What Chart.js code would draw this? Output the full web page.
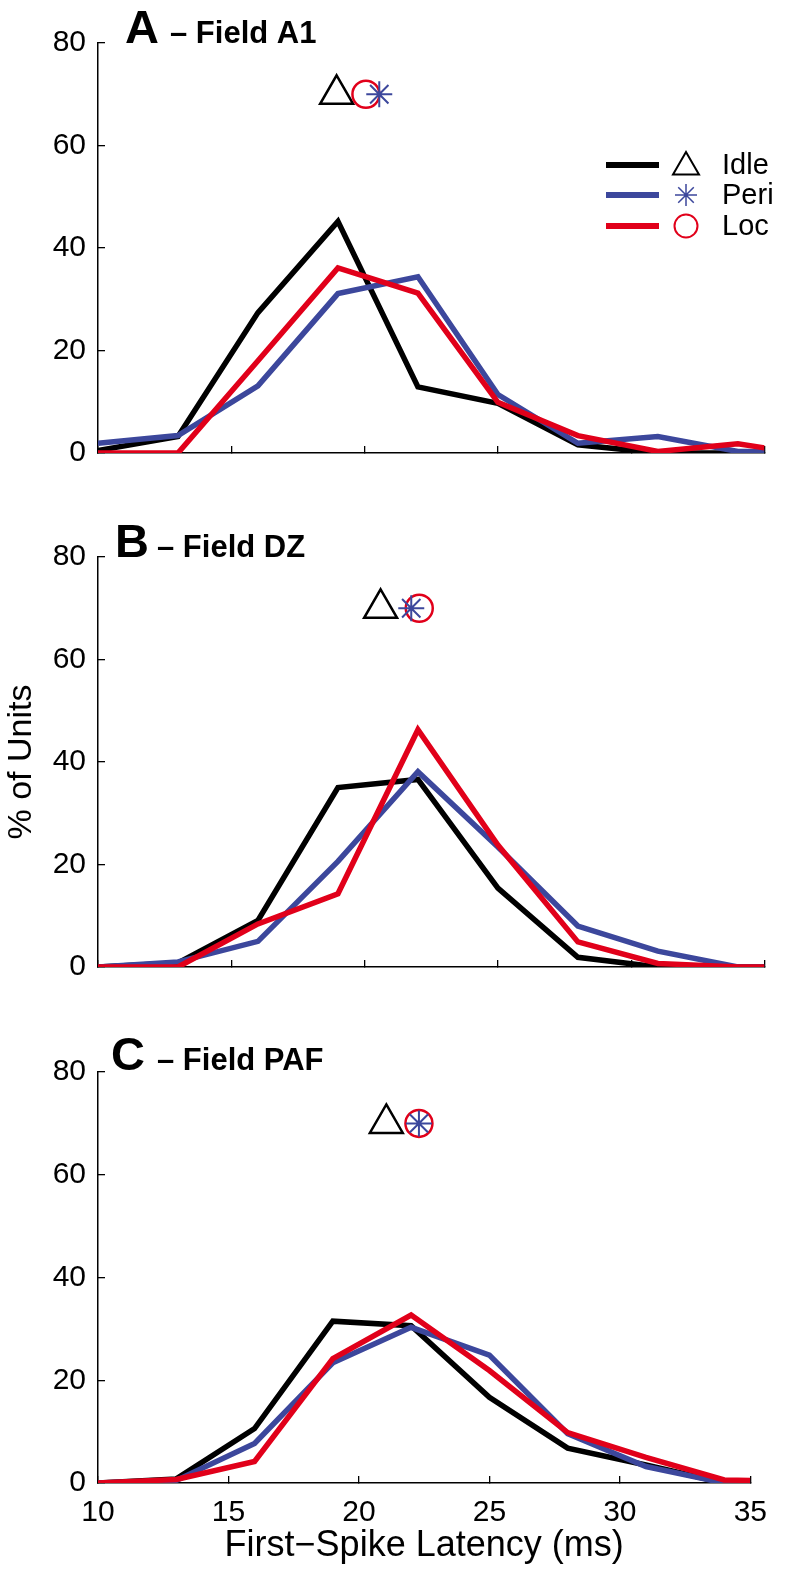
<!DOCTYPE html>
<html>
<head>
<meta charset="UTF-8">
<title>First-Spike Latency</title>
<script src="https://cdn.jsdelivr.net/npm/chart.js"></script>
<style>
  body { margin: 0; background: #fff; }
  #wrap { position: relative; width: 786px; height: 1571px; overflow: hidden; }
  #wrap canvas { position: absolute; left: 0; }
</style>
</head>
<body>
<div id="wrap">
  <canvas id="chartA" width="786" height="500" style="top:0px"></canvas>
  <canvas id="chartB" width="786" height="515" style="top:500px"></canvas>
  <canvas id="chartC" width="786" height="556" style="top:1015px"></canvas>
</div>
<script>
// latency bins (ms)
const latency = [10, 13, 16, 19, 22, 25, 28, 31, 34, 35];

// % of units, field A1
const idleA = [0.5, 3.2, 27.4, 45.2, 12.9, 9.7, 1.6, 0, 0, 0];
const periA = [1.9, 3.4, 13.1, 31.1, 34.4, 11.4, 1.9, 3.2, 0.3, 0.3];
const locA  = [0, 0, 18, 36.1, 31.2, 9.9, 3.4, 0.3, 1.8, 1.0];

// field DZ
const idleB = [0, 0.8, 9.1, 35, 36.6, 15.4, 1.9, 0, 0, 0];
const periB = [0, 1.0, 5.0, 20.6, 38.1, 23.4, 8.0, 3.1, 0, 0];
const locB  = [0, 0, 8.4, 14.3, 46.3, 23.8, 4.9, 0.7, 0, 0];

// field PAF
const idleC = [0, 0.8, 10.6, 31.5, 30.6, 16.7, 6.8, 3.5, 0, 0];
const periC = [0, 0.5, 7.7, 23.4, 30.3, 24.9, 9.6, 3.2, 0, 0];
const locC  = [0, 0.7, 4.2, 24.2, 32.7, 21.9, 9.8, 5.0, 0.6, 0.5];

// mean latencies (A, B, C) shown as markers
const idleMean = [18.95, 20.6, 21.05];
const periMean = [20.55, 21.75, 22.3];
const locMean  = [20.05, 22.05, 22.3];
const meanLevel = 70;

const xTicks = [10, 15, 20, 25, 30, 35];
const yTicks = [0, 20, 40, 60, 80];
const groups = ['Idle', 'Peri', 'Loc'];

const FONT = "'Liberation Sans', Arial, Helvetica, sans-serif";
const BLACK = '#000000', BLUE = '#3c479c', RED = '#e1001a';
const colors = [BLACK, BLUE, RED];
const markerStyles = [
  { pointStyle: 'triangle', radius: 19, borderWidth: 2.5 },
  { pointStyle: 'star', radius: 13, borderWidth: 2 },
  { pointStyle: 'circle', radius: 13.5, borderWidth: 2.5 }
];

function pts(ys) {
  return latency.map((x, i) => ({ x: x, y: ys[i] }));
}

function lineSet(label, ys, color, order) {
  return {
    label: label, data: pts(ys), borderColor: color, borderWidth: 5.5,
    pointRadius: 0, tension: 0, order: order, borderJoinStyle: 'miter'
  };
}

function markerSet(k, x, order) {
  const m = markerStyles[k];
  return {
    label: groups[k] + ' mean', data: [{ x: x, y: meanLevel }], showLine: false,
    pointStyle: m.pointStyle, pointRadius: m.radius, pointBorderWidth: m.borderWidth,
    pointBorderColor: colors[k], pointBackgroundColor: 'rgba(0,0,0,0)',
    pointHoverRadius: m.radius, order: order
  };
}

// panel letter + field name
const panelTitle = {
  id: 'panelTitle',
  afterDraw(chart, args, opts) {
    const ctx = chart.ctx;
    ctx.save();
    ctx.fillStyle = '#000';
    ctx.textBaseline = 'alphabetic';
    ctx.textAlign = 'left';
    ctx.font = 'bold 47px ' + FONT;
    ctx.fillText(opts.letter, opts.lx, opts.y);
    ctx.font = 'bold 31px ' + FONT;
    ctx.fillText(opts.rest, opts.rx, opts.y);
    ctx.restore();
  }
};

// line + marker + name legend in panel A
const lineMarkerLegend = {
  id: 'lineMarkerLegend',
  afterDraw(chart, args, opts) {
    if (!opts.show) return;
    const ctx = chart.ctx;
    const rows = [165, 195, 226];
    const sizes = [15, 11, 11.5];
    ctx.save();
    groups.forEach((g, k) => {
      const y = rows[k];
      ctx.strokeStyle = colors[k];
      ctx.lineWidth = 6;
      ctx.beginPath();
      ctx.moveTo(606, y);
      ctx.lineTo(659, y);
      ctx.stroke();
      ctx.lineWidth = k === 1 ? 1.5 : 2;
      ctx.fillStyle = 'rgba(0,0,0,0)';
      Chart.helpers.drawPoint(ctx, {
        pointStyle: markerStyles[k].pointStyle, radius: sizes[k],
        rotation: 0, borderWidth: ctx.lineWidth
      }, 686, k === 0 ? y + 2 : y);
      ctx.fillStyle = '#000';
      ctx.font = '29px ' + FONT;
      ctx.textBaseline = 'middle';
      ctx.textAlign = 'left';
      ctx.fillText(g, 722, y + 1);
    });
    ctx.restore();
  }
};

function scales(o) {
  const tickFont = { family: FONT, size: 30 };
  return {
    x: {
      type: 'linear', min: 10, max: 35,
      afterBuildTicks: s => { s.ticks = xTicks.map(v => ({ value: v })); },
      ticks: { display: o.xLabels, padding: 19, color: '#000', font: tickFont, maxRotation: 0 },
      grid: { drawOnChartArea: false, tickLength: -7, color: '#000', lineWidth: 1.3 },
      border: { color: '#000', width: 1.5 },
      title: {
        display: o.xLabels, text: 'First\u2212Spike Latency (ms)', color: '#000',
        font: { family: FONT, size: 36 }, padding: { top: 0, bottom: 3 }
      },
      afterFit: s => { s.height = o.xHeight; }
    },
    y: {
      type: 'linear', min: 0, max: 80,
      afterBuildTicks: s => { s.ticks = yTicks.map(v => ({ value: v })); },
      ticks: { padding: 19, color: '#000', font: tickFont },
      grid: { drawOnChartArea: false, tickLength: -7, color: '#000', lineWidth: 1.3 },
      border: { color: '#000', width: 1.5 },
      title: {
        display: o.yTitle, text: '% of Units', color: '#000',
        font: { family: FONT, size: 34 }, padding: { top: 1, bottom: 0 }
      },
      afterFit: s => { s.width = 98; }
    }
  };
}

function panel(id, idle, peri, loc, k, o) {
  new Chart(document.getElementById(id), {
    type: 'line',
    data: {
      datasets: [
        lineSet('Idle', idle, BLACK, 6),
        lineSet('Peri', peri, BLUE, 5),
        lineSet('Loc', loc, RED, 4),
        markerSet(0, idleMean[k], 3),
        markerSet(2, locMean[k], 2),
        markerSet(1, periMean[k], 1)
      ]
    },
    options: {
      responsive: false,
      animation: false,
      events: [],
      layout: { padding: { top: o.top, right: 16, left: 0, bottom: 0 } },
      scales: scales(o),
      plugins: {
        legend: { display: false },
        tooltip: { enabled: false },
        panelTitle: o.title,
        lineMarkerLegend: { show: !!o.legend }
      }
    },
    plugins: [panelTitle, lineMarkerLegend]
  });
}

panel('chartA', idleA, periA, locA, 0, {
  top: 43, xHeight: 47, xLabels: false, yTitle: false, legend: true,
  title: { letter: 'A', rest: '\u2013 Field A1', lx: 125, rx: 170, y: 43 }
});
panel('chartB', idleB, periB, locB, 1, {
  top: 57, xHeight: 48, xLabels: false, yTitle: true,
  title: { letter: 'B', rest: '\u2013 Field DZ', lx: 115, rx: 157, y: 57 }
});
panel('chartC', idleC, periC, locC, 2, {
  top: 57, xHeight: 88, xLabels: true, yTitle: false,
  title: { letter: 'C', rest: '\u2013 Field PAF', lx: 111, rx: 157, y: 55 }
});
</script>
</body>
</html>
